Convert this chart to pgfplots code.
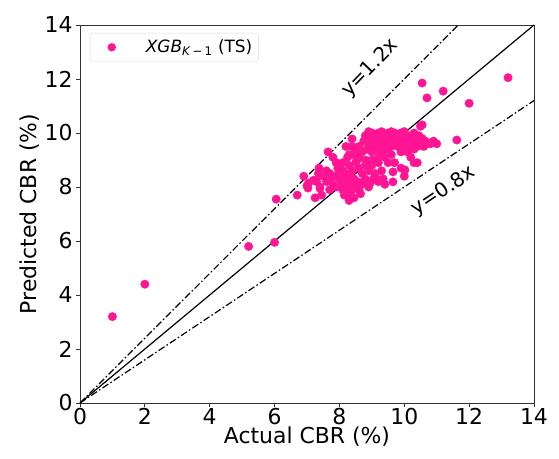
\documentclass[border=0pt]{standalone}
\usepackage{pgfplots}
\pgfplotsset{compat=1.18}
\usepackage{fontspec}
\setmainfont{DejaVu Sans}
\definecolor{dotpink}{RGB}{255,20,147}
\begin{document}
\begin{tikzpicture}
\begin{axis}[
    name=ax,
    scale only axis,
    width=454bp, height=378bp,
    xmin=0, xmax=14, ymin=0, ymax=14,
    xtick={0,2,...,14}, ytick={0,2,...,14},
    tick align=outside,
    xtick pos=bottom, ytick pos=left,
    major tick length=4bp,
    axis line style={black!80, line width=0.8bp},
    tick style={black!80, line width=0.8bp},
    /pgf/number format/assume math mode=true,
    tick label style={font=\fontsize{22}{26}\selectfont},
    label style={font=\fontsize{22}{26}\selectfont},
    xticklabel style={yshift=2bp},
    xlabel={Actual CBR (\%)},
    ylabel={Predicted CBR (\%)},
    xlabel style={yshift=5bp},
    ylabel style={yshift=-2bp},
    legend style={
        at={(0.022,0.979)}, anchor=north west,
        draw=black!15, rounded corners=2bp,
        font=\fontsize{17}{20}\selectfont,
        inner xsep=4bp, inner ysep=5bp,
    },
    legend image code/.code={
        \fill[dotpink] (0.62cm,0cm) circle (4.2bp);
        \path (0cm,-0.1cm) rectangle (1.75cm,0.1cm);
    },
    legend cell align=left,
    clip=true,
]
\addplot[only marks, mark=*, mark size=4.2bp, color=dotpink, draw=none] coordinates {
(1.0,3.2) (2.0,4.4) (5.2,5.8) (6.0,5.95) (6.05,7.55) (6.7,7.7)
(13.2,12.05) (12.0,11.1) (11.2,11.55) (10.55,11.85) (10.7,11.3)
(11.62,9.74) (10.85,9.63) (10.55,10.3) (10.5,10.25)
(8.6,9.5) (8.7,9.3) (8.75,9.7) (8.8,9.9) (8.85,9.4) (8.9,9.6) (8.95,9.8)
(9.0,10.0) (9.0,9.3) (9.05,9.5) (9.1,9.7) (9.1,9.9) (9.15,9.4) (9.2,9.6)
(9.2,10.0) (9.25,9.8) (9.3,9.5) (9.3,9.3) (9.35,9.7) (9.4,9.9) (9.4,9.6)
(9.45,9.4) (9.5,9.8) (9.5,10.0) (9.55,9.6) (9.6,9.5) (9.6,9.9) (9.65,9.7)
(9.7,9.6) (9.7,10.0) (9.75,9.8) (9.8,9.5) (9.8,9.9) (9.85,9.7) (9.9,9.6)
(9.9,10.0) (9.95,9.8) (10.0,9.5) (10.0,9.9) (10.05,9.7) (10.1,9.6) (10.1,9.9)
(10.15,9.8) (10.2,9.5) (10.2,9.7) (10.25,9.9) (10.3,9.6) (10.35,9.8) (10.4,9.5)
(10.4,9.7) (10.45,9.9) (10.5,9.6) (10.55,9.8) (10.6,9.5) (10.65,9.7) (10.7,9.6)
(10.8,9.6) (10.9,9.7) (11.0,9.6) (10.3,9.4) (10.1,9.3) (9.9,9.3) (9.6,9.2)
(9.4,9.1) (9.2,9.1) (9.0,9.0) (8.8,9.0) (8.6,9.1) (8.5,9.3) (8.4,9.5)
(8.3,9.2) (8.39,9.78) (8.9,10.05) (9.3,10.05) (9.6,10.05) (10.0,10.05) (10.3,10.0)
(8.0,8.6) (8.1,8.9) (8.2,8.5) (8.3,8.8) (8.4,8.6) (8.5,8.9) (8.6,8.7)
(8.7,8.5) (8.8,8.8) (8.9,8.6) (9.0,8.8) (9.1,8.5) (9.2,8.9) (8.25,9.1)
(8.55,9.0) (8.15,8.3) (8.45,8.3) (8.75,8.2) (9.05,8.3) (9.3,8.6) (9.5,8.9)
(9.35,8.3) (7.5,8.4) (7.6,8.2) (7.7,8.5) (7.8,8.1) (7.85,8.4) (7.9,8.0)
(8.0,8.3) (8.05,8.1) (8.1,7.9) (8.2,8.2) (8.25,8.0) (8.3,8.4) (8.35,7.8)
(8.4,8.1) (8.5,8.0) (8.55,8.2) (8.6,7.9) (8.7,8.1) (8.8,8.3) (8.9,8.0)
(7.7,7.9) (7.6,8.6) (7.95,8.7) (8.15,7.7) (8.45,7.6) (8.3,7.5) (8.65,7.75)
(7.4,8.0) (7.45,7.7) (7.3,8.2) (7.2,8.25) (7.35,8.5) (7.25,7.6) (7.4,7.95)
(6.9,8.4) (7.03,7.96) (7.0,8.05) (7.05,8.15) (7.37,8.7) (7.65,9.3) (7.8,9.1)
(8.2,9.5) (7.9,8.9) (9.25,8.26) (9.65,8.56) (10.02,8.63) (9.65,8.19) (10.0,8.4)
(9.9,8.7) (10.4,8.9) (10.2,9.1) (9.7,8.9) (8.26,7.81) (8.33,7.63) (8.4,9.2)
(10.3,8.9) (9.4,8.1) (9.2,8.2) (9.1,8.45) (8.95,8.15) (8.1,8.6) (7.75,8.3)
};
\addlegendentry{\textit{XGB}\textsubscript{\textit{K}\,\char"2212\,1} (TS)}
\addplot[forget plot, black, line width=1.2bp] coordinates {(0,0) (14,14)};
\addplot[forget plot, black, line width=1.2bp, dash pattern=on 7bp off 2.5bp on 1.5bp off 2.5bp] coordinates {(0,0) (11.6667,14)};
\addplot[forget plot, black, line width=1.2bp, dash pattern=on 7bp off 2.5bp on 1.5bp off 2.5bp] coordinates {(0,0) (14,11.2)};
\node[rotate=46, font=\fontsize{20}{24}\selectfont] at (axis cs:8.95,12.4) {y=1.2x};
\node[rotate=34, font=\fontsize{20}{24}\selectfont] at (axis cs:11.22,7.85) {y=0.8x};
\end{axis}
\useasboundingbox ([shift={(-80bp,-56bp)}]ax.south west) rectangle ([shift={(25bp,25bp)}]ax.north east);
\end{tikzpicture}
\end{document}
